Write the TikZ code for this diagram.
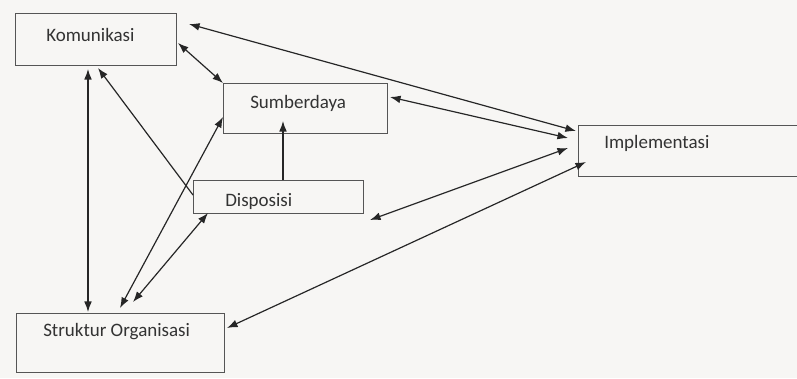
\documentclass[tikz,border=0pt]{standalone}
\usepackage{fontspec}
\setmainfont{Carlito}
\usetikzlibrary{arrows.meta,calc}
\definecolor{latar}{HTML}{F7F6F4}
\definecolor{garis}{HTML}{555555}
\definecolor{tinta}{HTML}{333333}
\begin{document}
\begin{tikzpicture}[x=0.025cm,y=-0.025cm,
    every node/.style={font=\fontsize{13.5}{16}\selectfont},
    >={Latex[length=7.5pt,width=5.5pt]},
    kotak/.style={draw=garis,line width=0.7pt,anchor=north west,inner sep=0pt,outer sep=0pt},
    teks/.style={anchor=west,inner sep=0pt,text=tinta},
    panah/.style={draw=black!85,line width=0.85pt}]
\useasboundingbox[fill=latar] (0,0) rectangle (797,378);

% Macro for boxes: name, x, y, width, height
\newcommand{\kotakblok}[5]{
    \node[kotak,minimum width=#4*0.025cm,minimum height=#5*0.025cm] (#1) at (#2,#3) {};
}

% Boxes
\kotakblok{kom}{15}{13}{161}{52}
\kotakblok{sum}{223}{83}{164}{50}
\kotakblok{disp}{193}{180}{170}{33}
\kotakblok{impl}{578}{125}{222}{51}
\kotakblok{str}{16}{313}{208}{59}

% Labels
\node[teks] (kom-t) at (46,35) {Komunikasi};
\node[teks] (sum-t) at (250,103) {Sumberdaya};
\node[teks] (disp-t) at (225,201) {Disposisi};
\node[teks] (impl-t) at (604,143) {Implementasi};
\node[teks] (str-t) at (43,332) {Struktur Organisasi};

% Arrows to Implementasi
\draw[panah,<->] ($(kom.north east)+(13,11)$) -- ($(impl.north west)+(-2,6)$);
\draw[panah,<->] ($(sum.north east)+(3,14)$) -- ($(impl.north west)+(-10,13)$);
\draw[panah,<->] ($(disp.south east)+(7,7)$) -- ($(impl.north west)+(-10,23)$);
\draw[panah,<->] ($(str.north east)+(3,15)$) -- ($(impl.north west)+(8,37)$);

% Arrows from Disposisi
\draw[panah,->] ($(disp.north west)+(90,0)$) -- ($(sum.south west)+(60,-12)$);
\draw[panah,->] ($(disp.north west)+(0,15)$) -- ($(kom.south west)+(83,3)$);

% Other links
\draw[panah,<->] ($(kom.south west)+(73,4)$) -- ($(str.north west)+(72,-1)$);
\draw[panah,<->] ($(kom.north east)+(2,30)$) -- (sum.north west);
\draw[panah,<->] ($(str.north west)+(104,-5)$) -- ($(sum.north west)+(0,34)$);
\draw[panah,<->] ($(str.north west)+(117,-11)$) -- ($(disp.south west)+(15,0)$);

\end{tikzpicture}
\end{document}
